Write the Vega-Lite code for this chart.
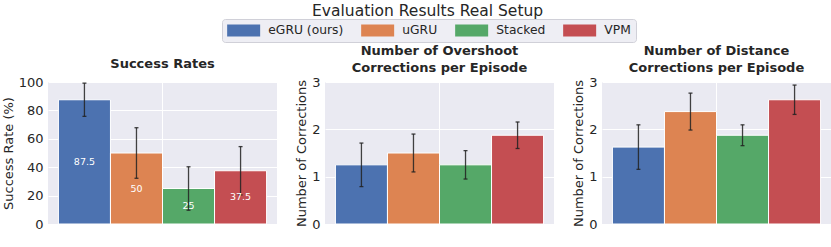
{
  "$schema": "https://vega.github.io/schema/vega-lite/v6.json",
  "background": "white",
  "padding": {"left": 2, "top": 4, "right": 4, "bottom": 22},
  "title": {"text": "Evaluation Results Real Setup", "fontSize": 15.5, "fontWeight": "normal", "font": "DejaVu Sans", "color": "#262626", "anchor": "middle", "offset": -1, "dx": 11},
  "datasets": {
    "success": [
      {"method": "eGRU (ours)", "mean": 87.5, "err": 11.7},
      {"method": "uGRU", "mean": 50, "err": 17.8},
      {"method": "Stacked", "mean": 25, "err": 15.3},
      {"method": "VPM", "mean": 37.5, "err": 17}
    ],
    "overshoot": [
      {"method": "eGRU (ours)", "mean": 1.25, "err": 0.46},
      {"method": "uGRU", "mean": 1.5, "err": 0.4},
      {"method": "Stacked", "mean": 1.25, "err": 0.3},
      {"method": "VPM", "mean": 1.875, "err": 0.28}
    ],
    "distance": [
      {"method": "eGRU (ours)", "mean": 1.625, "err": 0.47},
      {"method": "uGRU", "mean": 2.375, "err": 0.39},
      {"method": "Stacked", "mean": 1.875, "err": 0.22},
      {"method": "VPM", "mean": 2.625, "err": 0.31}
    ]
  },
  "spacing": 18,
  "hconcat": [
    {
      "width": 229, "height": 142,
      "title": {"text": "Success Rates", "offset": 5},
      "data": {"name": "success"},
      "layer": [
        {
          "layer": [
            {
              "mark": {"type": "bar", "stroke": "white", "strokeWidth": 1},
              "encoding": {
                "x": {"field": "method", "type": "nominal", "sort": ["eGRU (ours)", "uGRU", "Stacked", "VPM"], "scale": {"paddingInner": 0, "paddingOuter": 0.2},
                      "axis": {"values": ["Stacked"], "bandPosition": 0, "labels": false, "ticks": false, "domain": false, "title": null, "grid": true}},
                "y": {"field": "mean", "type": "quantitative", "scale": {"domain": [0, 100], "nice": false}, "axis": {"values": [0, 20, 40, 60, 80, 100], "labelOverlap": false}, "title": "Success Rate (%)"},
                "color": {"field": "method", "type": "nominal", "sort": ["eGRU (ours)", "uGRU", "Stacked", "VPM"], "scale": {"domain": ["eGRU (ours)", "uGRU", "Stacked", "VPM"], "range": ["#4C72B0", "#DD8452", "#55A868", "#C44E52"]},
                          "legend": {"title": null, "orient": "none", "legendX": 174, "legendY": -63}}
              }
            },
            {
              "mark": {"type": "errorbar", "ticks": true, "size": 4, "thickness": 1.3, "color": "#222222", "opacity": 0.85},
              "encoding": {
                "x": {"field": "method", "type": "nominal", "sort": ["eGRU (ours)", "uGRU", "Stacked", "VPM"]},
                "y": {"field": "mean", "type": "quantitative", "axis": {"values": [0, 20, 40, 60, 80, 100], "labelOverlap": false}, "title": "Success Rate (%)"},
                "yError": {"field": "err"}
              }
            }
          ]
        },
        {
          "mark": {"type": "text", "color": "white", "fontSize": 9.5, "font": "DejaVu Sans"},
          "encoding": {
            "x": {"field": "method", "type": "nominal", "sort": ["eGRU (ours)", "uGRU", "Stacked", "VPM"]},
            "y": {"field": "mean", "type": "quantitative", "scale": {"domain": [0, 200], "nice": false}, "axis": null},
            "text": {"field": "mean", "type": "quantitative"}
          }
        }
      ],
      "resolve": {"scale": {"y": "independent"}}
    },
    {
      "width": 229, "height": 142,
      "title": {"text": "Number of Overshoot", "subtitle": "Corrections per Episode", "offset": 1},
      "data": {"name": "overshoot"},
      "layer": [
        {
          "mark": {"type": "bar", "stroke": "white", "strokeWidth": 1},
          "encoding": {
            "x": {"field": "method", "type": "nominal", "sort": ["eGRU (ours)", "uGRU", "Stacked", "VPM"], "scale": {"paddingInner": 0, "paddingOuter": 0.2},
                  "axis": {"values": ["Stacked"], "bandPosition": 0, "labels": false, "ticks": false, "domain": false, "title": null, "grid": true}},
            "y": {"field": "mean", "type": "quantitative", "scale": {"domain": [0, 3], "nice": false}, "axis": {"values": [0, 1, 2, 3]}, "title": "Number of Corrections"},
            "color": {"field": "method", "type": "nominal", "sort": ["eGRU (ours)", "uGRU", "Stacked", "VPM"]}
          }
        },
        {
          "mark": {"type": "errorbar", "ticks": true, "size": 4, "thickness": 1.3, "color": "#222222", "opacity": 0.85},
          "encoding": {
            "x": {"field": "method", "type": "nominal", "sort": ["eGRU (ours)", "uGRU", "Stacked", "VPM"]},
            "y": {"field": "mean", "type": "quantitative", "axis": {"values": [0, 1, 2, 3]}, "title": "Number of Corrections"},
            "yError": {"field": "err"}
          }
        }
      ]
    },
    {
      "width": 229, "height": 142,
      "title": {"text": "Number of Distance", "subtitle": "Corrections per Episode", "offset": 1},
      "data": {"name": "distance"},
      "layer": [
        {
          "mark": {"type": "bar", "stroke": "white", "strokeWidth": 1},
          "encoding": {
            "x": {"field": "method", "type": "nominal", "sort": ["eGRU (ours)", "uGRU", "Stacked", "VPM"], "scale": {"paddingInner": 0, "paddingOuter": 0.2},
                  "axis": {"values": ["Stacked"], "bandPosition": 0, "labels": false, "ticks": false, "domain": false, "title": null, "grid": true}},
            "y": {"field": "mean", "type": "quantitative", "scale": {"domain": [0, 3], "nice": false}, "axis": {"values": [0, 1, 2, 3]}, "title": "Number of Corrections"},
            "color": {"field": "method", "type": "nominal", "sort": ["eGRU (ours)", "uGRU", "Stacked", "VPM"]}
          }
        },
        {
          "mark": {"type": "errorbar", "ticks": true, "size": 4, "thickness": 1.3, "color": "#222222", "opacity": 0.85},
          "encoding": {
            "x": {"field": "method", "type": "nominal", "sort": ["eGRU (ours)", "uGRU", "Stacked", "VPM"]},
            "y": {"field": "mean", "type": "quantitative", "axis": {"values": [0, 1, 2, 3]}, "title": "Number of Corrections"},
            "yError": {"field": "err"}
          }
        }
      ]
    }
  ],
  "resolve": {"scale": {"color": "shared"}},
  "config": {
    "font": "DejaVu Sans",
    "view": {"fill": "#EAEAF2", "stroke": null},
    "axis": {"labelFont": "DejaVu Sans", "labelFontSize": 13, "labelColor": "#262626", "labelPadding": 5,
             "titleFont": "DejaVu Sans", "titleFontSize": 13, "titleFontWeight": "normal", "titleColor": "#262626", "titlePadding": 3,
             "gridColor": "white", "gridWidth": 1, "gridOpacity": 1, "domain": false, "ticks": false},
    "title": {"font": "DejaVu Sans", "fontSize": 13, "fontWeight": "bold", "color": "#262626", "anchor": "middle",
              "subtitleFont": "DejaVu Sans", "subtitleFontSize": 13, "subtitleFontWeight": "bold", "subtitleColor": "#262626", "subtitlePadding": 4},
    "legend": {"direction": "horizontal", "labelFont": "DejaVu Sans", "labelFontSize": 12.3, "labelColor": "#262626",
               "symbolType": "M-1,-1H4.5V1H-1Z", "symbolSize": 144, "symbolStrokeWidth": 0, "labelOffset": 29, "columnPadding": 17,
               "padding": 5, "fillColor": "#EEEEF4", "strokeColor": "#D0D0D8", "cornerRadius": 3}
  }
}
